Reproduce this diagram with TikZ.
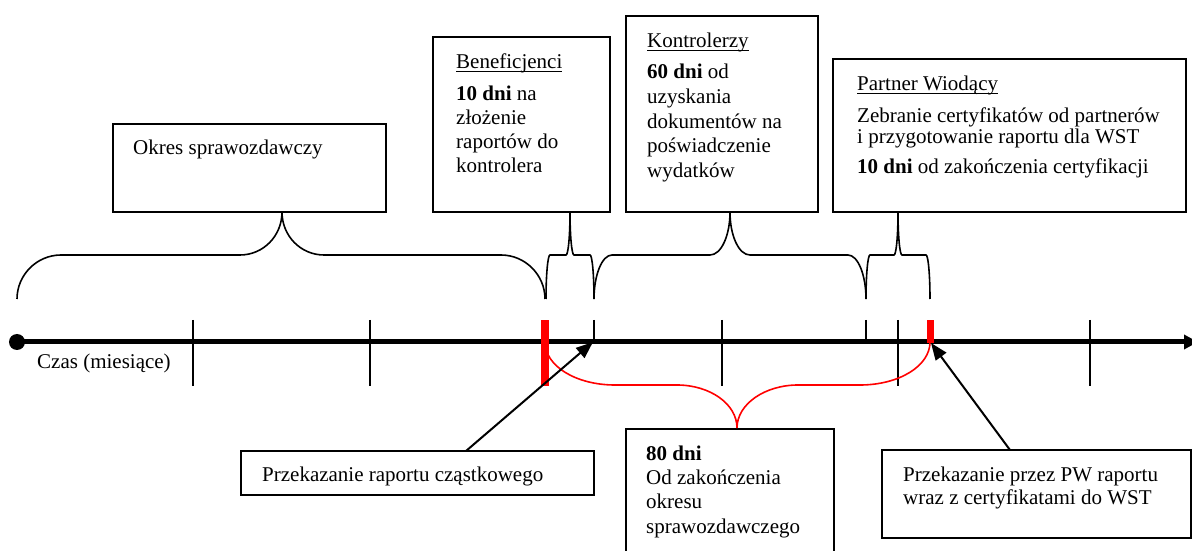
\documentclass[tikz,border=0pt]{standalone}
\usepackage{fontspec}
\setmainfont{Liberation Serif}
\usetikzlibrary{arrows.meta}
\newcommand\myul[1]{\setbox0\hbox{#1}\rlap{\rule[-3bp]{\wd0}{0.9bp}}\box0}
\newcommand\mybrace[5]{% L T R rxo rxi
  \draw[bracel] (#1,299) .. controls (#1,275) and ({#1+0.448*#4},255) .. ({#1+#4},255)
    -- ({#2-#5},255) .. controls ({#2-0.448*#5},255) and (#2,236) .. (#2,212)
    .. controls (#2,236) and ({#2+0.448*#5},255) .. ({#2+#5},255)
    -- ({#3-#4},255) .. controls ({#3-0.448*#4},255) and (#3,275) .. (#3,299);}
\begin{document}
\begin{tikzpicture}[x=1bp,y=-1bp,
  box/.style={draw=black, line width=1.8bp, fill=white},
  txt/.style={anchor=base west, inner sep=0pt, font=\fontsize{21bp}{24bp}\selectfont},
  bracel/.style={draw=black, line width=1.6bp},
  tick/.style={draw=black, line width=1.8bp},
  pointer/.style={draw=black, line width=2bp, -{Triangle[length=17bp,width=13bp]}}]
\useasboundingbox (0,0) rectangle (1192,551);
\begin{scope}
\clip (0,0) rectangle (1192,551);
% boxes
\draw[box] (113,124) rectangle (386,212);
\draw[box] (433,37) rectangle (610,212);
\draw[box] (626,16) rectangle (818,212);
\draw[box] (833,59) rectangle (1186,212);
\draw[box] (241,451) rectangle (594,495);
\draw[box] (626,429) rectangle (834,560);
\draw[box] (882,450) rectangle (1191,538);
\coordinate (okres) at (249,168);
% texts
\node[txt] (tOkres) at (133,155) {Okres sprawozdawczy};
\node[txt] (tBen) at (456,69) {\myul{Beneficjenci}};
\node[txt] (tBen1) at (456,101) {\textbf{10 dni} na};
\node[txt] (tBen2) at (456,125) {złożenie};
\node[txt] (tBen3) at (456,149) {raportów do};
\node[txt] (tBen4) at (456,173) {kontrolera};
\node[txt] (tKon) at (647,48) {\myul{Kontrolerzy}};
\node[txt] (tKon1) at (647,79) {\textbf{60 dni} od};
\node[txt] (tKon2) at (647,103.6) {uzyskania};
\node[txt] (tKon3) at (647,128.2) {dokumentów na};
\node[txt] (tKon4) at (647,152.8) {poświadczenie};
\node[txt] (tKon5) at (647,177.4) {wydatków};
\node[txt] (tPar) at (857,91) {\myul{Partner Wiodący}};
\node[txt] (tPar1) at (857,123) {Zebranie certyfikatów od partnerów};
\node[txt] (tPar2) at (857,144) {i przygotowanie raportu dla WST};
\node[txt] (tPar3) at (857,174) {\textbf{10 dni} od zakończenia certyfikacji};
\node[txt] (tCzas) at (37,369) {Czas (miesiące)};
\node[txt] (tPrz) at (262,481.5) {Przekazanie raportu cząstkowego};
\node[txt] (t80) at (646,460) {\textbf{80 dni}};
\node[txt] (t801) at (646,484) {Od zakończenia};
\node[txt] (t802) at (646,508.5) {okresu};
\node[txt] (t803) at (646,533) {sprawozdawczego};
\node[txt] (tPW1) at (903,481.5) {Przekazanie przez PW raportu};
\node[txt] (tPW2) at (903,504.5) {wraz z certyfikatami do WST};
% braces (black)
\mybrace{17}{282}{545}{44}{42}
\mybrace{546}{570}{594}{4}{4}
\mybrace{594}{730}{866}{18}{20}
\mybrace{866}{898}{930}{4}{4}
% axis
\draw[black, line width=5bp, -{Triangle[length=14bp,width=14bp]}] (17,342) -- (1198,342);
\fill[black] (17,342) circle (8bp);
% ticks
\foreach \x in {193,370,722,898,1090} \draw[tick] (\x,320) -- (\x,386);
\foreach \x in {594,866} \draw[tick] (\x,320) -- (\x,342);
% red brace
\draw[red, line width=1.6bp] (545,342) .. controls (545,366) and (576,385) .. (615,385)
  -- (677,385) .. controls (710,385) and (737,404) .. (737,428)
  .. controls (737,404) and (765,385) .. (798,385)
  -- (860,385) .. controls (899,385) and (930,366) .. (930,342);
% red bars
\fill[red] (541,320) rectangle (549,386);
\fill[red] (926.5,320) rectangle (933.5,343);
% pointers
\coordinate (p1s) at (466,451);
\coordinate (p1e) at (593,342);
\coordinate (p2s) at (1010,450);
\coordinate (p2e) at (931,343);
\draw[pointer] (p1s) -- (p1e);
\draw[pointer] (p2s) -- (p2e);
\end{scope}
\end{tikzpicture}
\end{document}
